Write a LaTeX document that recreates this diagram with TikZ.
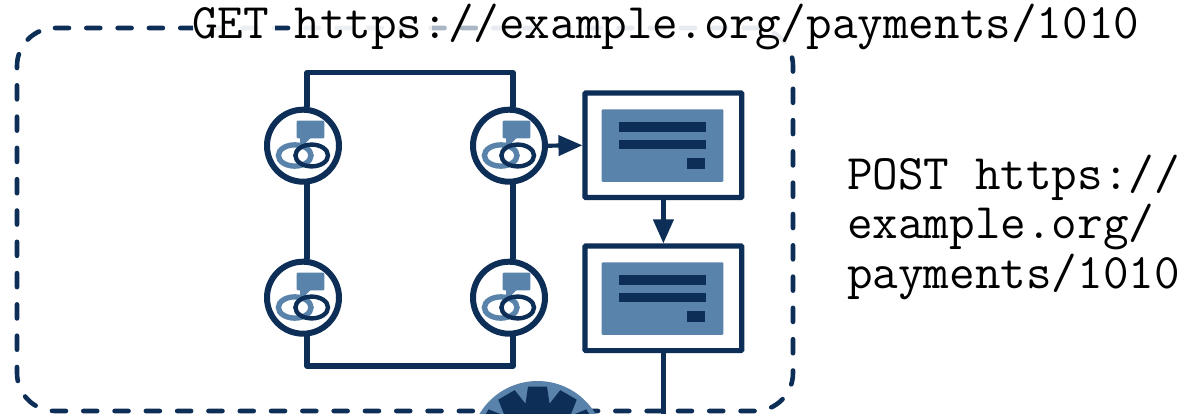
\documentclass[tikz,border=0pt]{standalone}
\usetikzlibrary{arrows.meta,calc}
\definecolor{navy}{HTML}{0D2F57}
\definecolor{steel}{HTML}{5A83AB}
\tikzset{
  x=1pt,y=-1pt,
  wire/.style={draw=navy,line width=5.6pt,line join=round},
  thinwire/.style={draw=navy,line width=4.2pt},
  boundary/.style={draw=navy,line width=4.6pt,line cap=round,dash pattern=on 14pt off 17.3pt,rounded corners=38pt},
  portal/.style={circle,draw=navy,fill=white,line width=6pt,minimum size=72pt,inner sep=0pt},
  panel/.style={rectangle,draw=navy,fill=white,line width=5.2pt,minimum width=156.7pt,minimum height=104.6pt,inner sep=0pt,rounded corners=0.8pt},
  label/.style={inner sep=0pt,anchor=base west,font=\fontsize{49.7}{50}\selectfont\ttfamily,text=black,align=left},
  tip/.style={-{Triangle[length=24pt,width=20pt]}},
  halo/.style={fill=white,draw=none}
}
\newcommand{\ringicon}[1]{%
  \begin{scope}[shift={(#1)}]
    \fill[steel,rounded corners=1pt] (-6.3,-25) rectangle (21.3,-7.4);
    \fill[steel] (-3,-8) -- (8,-8) -- (1,-1) -- (-3,-1) -- cycle;
    \draw[steel,line width=5.4pt] (-8.3,9.8) ellipse [x radius=16.3pt,y radius=10.6pt];
    \draw[navy,line width=4.4pt] (8.7,9.8) ellipse [x radius=16.3pt,y radius=10.9pt];
  \end{scope}}
\newcommand{\formicon}[2]{%
  \begin{scope}[shift={(#1,#2)}]
    \fill[steel,rounded corners=1pt] (601.7,0) rectangle (723.3,72.6);
    \fill[navy] (619.3,13) rectangle (705.7,22.4);
    \fill[navy] (619.3,30.6) rectangle (705.7,40);
    \fill[navy] (687.3,48.3) rectangle (705,60.2);
  \end{scope}}
\begin{document}
\begin{tikzpicture}
\useasboundingbox (0,0) rectangle (1187,414);
\clip (0,0) rectangle (1187,414);
\fill[white] (0,0) rectangle (1187,414);

% dashed boundary
\draw[boundary] (55,28) -- (793,28) -- (793,411) -- (17,411) -- (17,28) -- (55,28);

% faded part of the boundary under the text
\fill[halo,opacity=.93] (193,18) rectangle (275,48);
\fill[halo,opacity=.93] (293,18) rectangle (432,48);
\fill[halo,opacity=.65] (432,18) rectangle (478,48);
\fill[halo,opacity=.9] (478,18) rectangle (800,50);

% gear
\fill[steel] (537.5,448.6) circle [radius=67.6pt];
\fill[navy] (537.5,448.6) circle [radius=47pt];
\foreach \a in {0,30,...,330}{
  \fill[navy,shift={(537.5,448.6)},rotate=\a] (-12,-45) -- (-9.5,-62) -- (9.5,-62) -- (12,-45) -- cycle;
}

% portals
\node[portal] (c1) at (303,145.7) {};
\node[portal] (c2) at (509,145.7) {};
\node[portal] (c3) at (303,297.7) {};
\node[portal] (c4) at (509,297.7) {};
\coordinate (top) at (410,72.7);
\coordinate (bot) at (410,366);
\draw[wire] (c1.84) |- (top) -| (c2.84);
\draw[wire] (c1.-84) -- (c3.84);
\draw[wire] (c2.-84) -- (c4.84);
\draw[wire] (c3.-84) |- (bot) -| (c4.-84);
\ringicon{303,145.7}
\ringicon{509,145.7}
\ringicon{303,297.7}
\ringicon{509,297.7}

% panels
\node[panel] (p1) at (663.4,145.3) {};
\node[panel] (p2) at (663.4,298.3) {};
\formicon{0}{109.3}
\formicon{0}{262.3}
\coordinate (out) at (p2.south |- 0,420);
\draw[thinwire,tip] (c2.east) -- (p1.west);
\draw[thinwire,tip] (p1.south) -- (p2.north);
\draw[thinwire] (p2.south) -- (out);

% labels
\node[label] (get) at (192,38.5) {GET https://example.org/payments/1010};
\node[label] (post) at (847,289) {POST https://\\example.org/\\payments/1010};
\end{tikzpicture}
\end{document}
